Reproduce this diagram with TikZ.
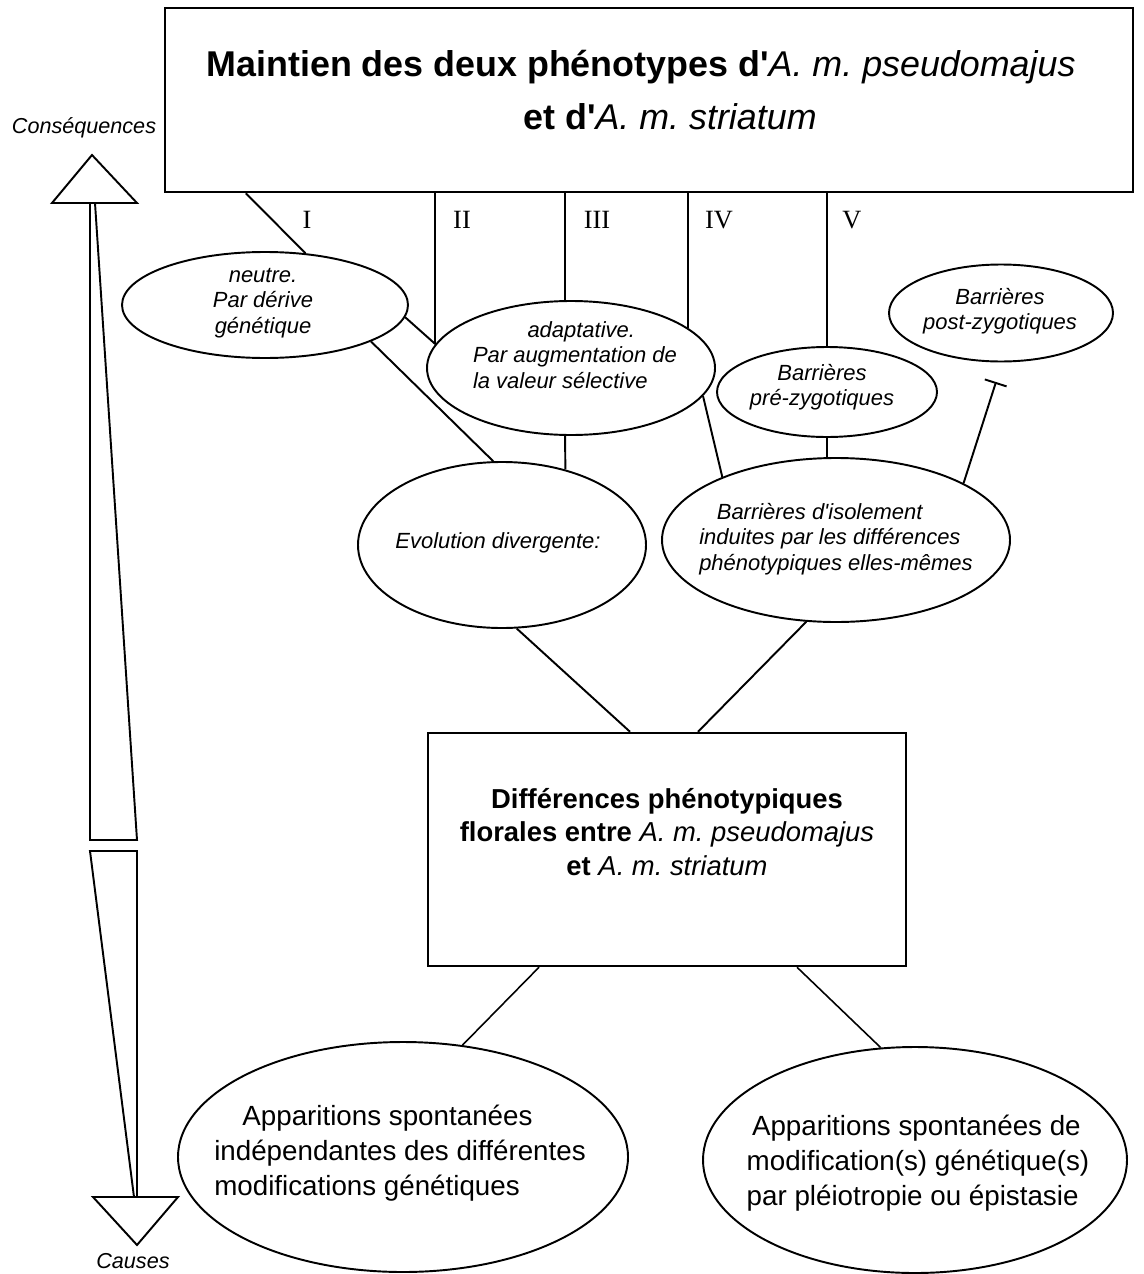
\documentclass[tikz,border=0pt]{standalone}
\usepackage{fontspec}
\setmainfont{Liberation Sans}
\newfontfamily\romain{Liberation Serif}
\usepackage{tikz}
\usetikzlibrary{shapes,arrows.meta,calc}
\frenchspacing
\newlength\pxu
\setlength\pxu{0.02cm}
\newcommand{\espece}[1]{{\mdseries\itshape #1}}
\newcommand{\apos}{\textquotesingle}
\tikzset{bulle/.style={ellipse,draw,line width=1.1pt,inner sep=0pt},
  cadre/.style={rectangle,draw,line width=1.4pt,inner sep=0pt},
  italique/.style={font=\fontsize{12.5}{14.5}\selectfont\itshape,inner sep=0pt},
  grostexte/.style={font=\fontsize{15.8}{20}\selectfont,inner sep=0pt,align=left},
  chiffre/.style={font=\romain\fontsize{15}{18}\selectfont,anchor=base,inner sep=0pt},
  axetexte/.style={font=\fontsize{12.3}{14}\selectfont\itshape,anchor=base,inner sep=0pt},
  lien/.style={line width=1.1pt},
  fleche/.style={line width=1.1pt,line join=miter}}

\begin{document}
\begin{tikzpicture}[x=0.02cm,y=-0.02cm]
	\useasboundingbox (0,0) rectangle (1143,1274);
	% boites
	\node[cadre,minimum width=968*\pxu,minimum height=184*\pxu] (maintien) at (649,100) {};
	\node[font=\fontsize{20.4}{30.6}\selectfont\bfseries,align=center,inner sep=0pt] (tmaintien) at (641,90)
		{Maintien des deux phénotypes d\apos\espece{A. m. pseudomajus}\\\hspace*{33pt}et d\apos\espece{A. m. striatum}};
	\node[cadre,minimum width=478*\pxu,minimum height=233*\pxu] (diff) at (667,849.5) {};
	\node[font=\fontsize{15.6}{19}\selectfont\bfseries,align=center,inner sep=0pt] (tdiff) at (667,832)
		{Différences phénotypiques\\florales entre \espece{A. m. pseudomajus}\\et \espece{A. m. striatum}};
	%
	\node[bulle,minimum width=286*\pxu,minimum height=106*\pxu] (neutre) at (265,305) {};
	\node[italique,align=center] (tneutre) at (263,303) {neutre.\\Par dérive\\génétique};
	\node[bulle,minimum width=288*\pxu,minimum height=134*\pxu] (adapt) at (571,368) {};
	\node[italique,align=left] (tadapt) at (575,355) {\hspace*{31pt}adaptative.\\Par augmentation de\\la valeur sélective};
	\node[bulle,minimum width=288*\pxu,minimum height=166*\pxu] (evo) at (502,545) {};
	\node[italique] (tevo) at (498,543) {Evolution divergente:};
	\node[bulle,minimum width=220*\pxu,minimum height=90*\pxu] (pre) at (827,392) {};
	\node[italique,align=center] (tpre) at (822,387) {Barrières\\pré-zygotiques};
	\node[bulle,minimum width=224*\pxu,minimum height=97*\pxu] (post) at (1001,313) {};
	\node[italique,align=center] (tpost) at (1000,311) {Barrières\\post-zygotiques};
	\node[bulle,minimum width=348*\pxu,minimum height=164*\pxu] (isol) at (836,540) {};
	\node[italique,align=left] (tisol) at (836,539) {\hspace*{10pt}Barrières d\apos isolement\\induites par les différences\\phénotypiques elles-mêmes};
	\node[bulle,minimum width=450*\pxu,minimum height=230*\pxu] (spont) at (403,1157) {};
	\node[grostexte] (tspont) at (400,1153) {\hspace*{16pt}Apparitions spontanées\\indépendantes des différentes\\modifications génétiques};
	\node[bulle,minimum width=424*\pxu,minimum height=226*\pxu] (pleio) at (915,1160) {};
	\node[grostexte] (tpleio) at (918,1163) {\hspace*{3pt}Apparitions spontanées de\\modification(s) génétique(s)\\par pléiotropie ou épistasie};
	%
	\node[chiffre] (un) at (307,228) {I};
	\node[chiffre] (deux) at (462,228) {II};
	\node[chiffre] (trois) at (597,228) {III};
	\node[chiffre] (quatre) at (719,228) {IV};
	\node[chiffre] (cinq) at (852,228) {V};
	%
	\node[axetexte] (consequences) at (84,133) {Conséquences};
	\node[axetexte] (causes) at (133,1268) {Causes};
	\draw[fleche] (92,155) -- (137,203) -- (52,203) -- cycle;
	\draw[fleche] (90,203) -- (95,203) -- (137,840) -- (90,840) -- cycle;
	\draw[fleche] (90,851) -- (137,851) -- (137,1197) -- (134,1197) -- cycle;
	\draw[fleche] (93,1197) -- (178,1197) -- (137,1245) -- cycle;
	%
	\path[lien]
	($(maintien.south west)+(82,0)$) edge (neutre.52)
	(neutre.-5) edge (adapt.170)
	(adapt.170) edge (adapt.170 |- maintien.south)
	(adapt.95) edge (adapt.95 |- maintien.south)
	(adapt.19) edge (adapt.19 |- maintien.south)
	(pre.north) edge (pre.north |- maintien.south)
	(neutre.-19) edge (evo.96)
	(adapt.-95) edge (evo.50)
	(adapt.-12) edge (isol.151)
	(pre.south) edge (pre.south |- isol.north)
	(evo.-80) edge ($(diff.north)+(-37,0)$)
	(isol.-110) edge ($(diff.north)+(31,0)$);
	\path[lien,line width=0.9pt]
	($(diff.south)+(-128,0)$) edge (spont.62)
	($(diff.south)+(130,0)$) edge (pleio.107);
	\coordinate (butee) at (996,382);
	\draw[lien,-{Bar[width=13pt]}] (isol.24) -- (butee);
\end{tikzpicture}
\end{document}
